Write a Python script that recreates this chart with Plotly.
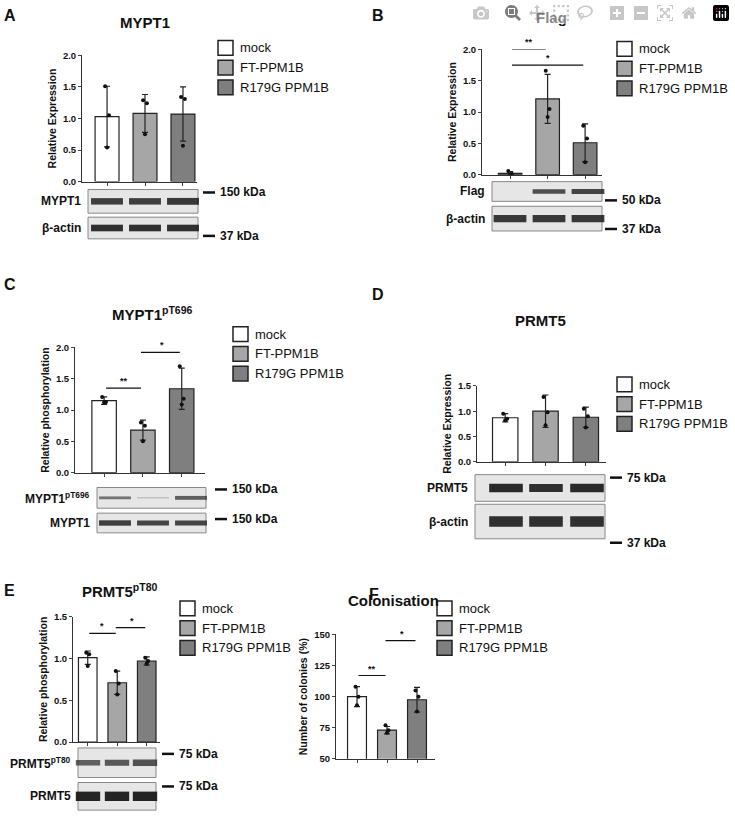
import plotly.graph_objects as go

W, H = 735, 824
groups = ["mock", "FT-PPM1B", "R179G PPM1B"]
colors = ["#ffffff", "#a6a6a6", "#7f7f7f"]

# --- data ---
A_mean = [1.03, 1.08, 1.07]; A_sd = [0.48, 0.30, 0.43]
A_pts = [[1.51, 1.05, 0.54], [1.29, 1.24, 0.75], [1.34, 1.31, 0.57]]
B_mean = [0.02, 1.21, 0.51]; B_sd = [0.03, 0.39, 0.30]
B_pts = [[0.06, 0.01, 0.0], [1.66, 1.05, 0.92], [0.78, 0.58, 0.20]]
C_mean = [1.15, 0.68, 1.34]; C_sd = [0.06, 0.16, 0.33]
C_pts = [[1.21, 1.13, 1.12], [0.80, 0.75, 0.50], [1.70, 1.18, 1.09]]
D_mean = [0.87, 1.00, 0.88]; D_sd = [0.08, 0.32, 0.20]
D_pts = [[0.95, 0.85, 0.82], [1.28, 0.98, 0.72], [1.05, 0.90, 0.68]]
E_mean = [1.01, 0.71, 0.97]; E_sd = [0.08, 0.14, 0.05]
E_pts = [[1.07, 1.05, 0.91], [0.85, 0.70, 0.57], [1.01, 0.97, 0.94]]
F_mean = [100, 73, 97.5]; F_sd = [8, 3, 10]
F_pts = [[108, 100, 93], [77, 73, 71], [105, 100, 88]]

FONT = "Liberation Sans"
fig = go.Figure()
shapes, annos = [], []

def px(x): return x / W
def py(y): return 1 - y / H

def text(x, y, t, size, xa="center", bold=True):
    annos.append(dict(xref="paper", yref="paper", x=px(x), y=py(y), text=("<b>" + t + "</b>") if bold else t,
                      showarrow=False, xanchor=xa, yanchor="middle", font=dict(size=size, family=FONT, color="#111")))

def panel(i, mean, sd, pts, box, xr, yr, dtick, ytitle, sigs, title, tpos, letter, lpos, legpos, blots):
    ax = "" if i == 1 else str(i)
    xa, ya = "x" + ax, "y" + ax
    x0, y0, x1, y1 = box
    fig.add_trace(go.Bar(x=[0, 1, 2], y=mean, width=0.63, marker=dict(color=colors, line=dict(color="#222", width=1.2)),
                         error_y=dict(type="data", array=sd, color="#222", thickness=1.2, width=3),
                         xaxis=xa, yaxis=ya, showlegend=False))
    xs, ys = [], []
    for g, p in enumerate(pts):
        offs = [-0.05, 0.05, 0.0]
        for k, v in enumerate(p):
            xs.append(g + offs[k]); ys.append(v)
    fig.add_trace(go.Scatter(x=xs, y=ys, mode="markers", marker=dict(color="#111", size=4),
                             xaxis=xa, yaxis=ya, showlegend=False))
    fig.layout["xaxis" + ax] = dict(domain=[px(x0), px(x1)], range=xr, anchor=ya, showline=True, linecolor="#333",
                                    tickvals=[0, 1, 2], showticklabels=False, ticks="outside", ticklen=3,
                                    showgrid=False, zeroline=False)
    fig.layout["yaxis" + ax] = dict(domain=[py(y1), py(y0)], range=yr, anchor=xa, showline=True, linecolor="#333",
                                    dtick=dtick, tick0=yr[0], ticks="outside", ticklen=3, showgrid=False, zeroline=False,
                                    tickfont=dict(size=9.5, family=FONT, color="#111", weight="bold"),
                                    tickformat=".1f" if dtick < 1 else "d",
                                    title=dict(text="<b>" + ytitle + "</b>", font=dict(size=10.5, family=FONT, color="#111"), standoff=4))
    for (a, b, yv, lab) in sigs:
        shapes.append(dict(type="line", xref=xa, yref=ya, x0=a - 0.05 + (0.1 if a == 0 else 0), x1=b - 0.05, y0=yv, y1=yv,
                           line=dict(color="#111", width=1.2)))
        annos.append(dict(xref=xa, yref=ya, x=(a + b) / 2, y=yv, text="<b>" + lab + "</b>", showarrow=False,
                          yanchor="bottom", font=dict(size=9, family=FONT, color="#111")))
    text(tpos[0], tpos[1], title, 15)
    text(lpos[0], lpos[1], letter, 16, "left")
    lx, ly = legpos
    for g in range(3):
        shapes.append(dict(type="rect", xref="paper", yref="paper", x0=px(lx), x1=px(lx + 15),
                           y0=py(ly + g * 20), y1=py(ly + g * 20 + 15), fillcolor=colors[g],
                           line=dict(color="#222", width=1.5)))
        text(lx + 20, ly + g * 20 + 7.5, groups[g], 13, "left", bold=False)
    for (label, bx0, by0, bx1, by1, lanes, inten, markers) in blots:
        shapes.append(dict(type="rect", xref="paper", yref="paper", x0=px(bx0), x1=px(bx1), y0=py(by1), y1=py(by0),
                           fillcolor="#e6e6e6", line=dict(color="#888", width=1)))
        bh = (by1 - by0)
        hw = 0.42 * (lanes[1] - lanes[0])
        for lc, it in zip(lanes, inten):
            if it <= 0: continue
            shapes.append(dict(type="rect", xref="paper", yref="paper", x0=px(lc - hw), x1=px(lc + hw),
                               y0=py(by0 + bh * 0.5 + bh * 0.17 * it), y1=py(by0 + bh * 0.5 - bh * 0.17 * it),
                               fillcolor="rgba(25,25,25,%.2f)" % (0.3 + 0.65 * it), line=dict(width=0)))
        text(bx0 - 5, (by0 + by1) / 2, label, 12, "right")
        for (mx, my, mt) in markers:
            shapes.append(dict(type="line", xref="paper", yref="paper", x0=px(mx), x1=px(mx + 12), y0=py(my), y1=py(my),
                               line=dict(color="#111", width=2.5)))
            text(mx + 15, my, mt, 12, "left")

panel(1, A_mean, A_sd, A_pts, (82, 50, 197, 178), [-0.66, 2.37], [0, 2.0], 0.5, "Relative Expression", [],
      "MYPT1", (145, 17), "A", (2, 10), (218, 35),
      [("MYPT1", 88, 186, 198, 210, [107, 145, 183], [0.8, 0.8, 0.85], [(203, 189, "150 kDa")]),
       ("β-actin", 88, 214, 198, 236, [107, 145, 183], [0.9, 0.9, 0.9], [(203, 233, "37 kDa")])])
panel(2, B_mean, B_sd, B_pts, (482, 44, 602, 171), [-0.75, 2.45], [0, 2.0], 0.5, "Relative Expression",
      [(0, 1, 2.0, "**"), (0, 2, 1.75, "*")],
      "Flag", (551, 12), "B", (370, 10), (617, 36),
      [("Flag", 492, 178, 602, 198, [510, 549, 588], [0.0, 0.7, 0.75], [(605, 197, "50 kDa")]),
       ("β-actin", 492, 203, 602, 228, [510, 549, 588], [0.85, 0.85, 0.85], [(605, 226, "37 kDa")])])
panel(3, C_mean, C_sd, C_pts, (75, 346, 205, 473), [-0.75, 2.6], [0, 2.0], 0.5, "Relative phosphorylation",
      [(0, 1, 1.35, "**"), (1, 2, 1.92, "*")],
      "MYPT1<sup>pT696</sup>", (152, 312), "C", (2, 282), (233, 325),
      [("MYPT1<sup>pT696</sup>", 97, 488, 206, 509, [115, 153, 191], [0.4, 0.1, 0.55], [(215, 490, "150 kDa")]),
       ("MYPT1", 97, 514, 206, 534, [115, 153, 191], [0.8, 0.75, 0.75], [(215, 520, "150 kDa")])])
panel(4, D_mean, D_sd, D_pts, (477, 385, 606, 462), [-0.7, 2.5], [0, 1.5], 0.5, "Relative Expression", [],
      "PRMT5", (540, 319), "D", (370, 292), (617, 376),
      [("PRMT5", 475, 475, 605, 502, [506, 546, 587], [0.95, 0.9, 0.95], [(610, 478, "75 kDa")]),
       ("β-actin", 475, 505, 605, 540, [506, 546, 587], [0.9, 0.9, 0.9], [(610, 544, "37 kDa")])])
panel(5, E_mean, E_sd, E_pts, (73, 619, 160, 746), [-0.5, 2.45], [0, 1.5], 0.5, "Relative phosphorylation",
      [(0, 1, 1.3, "*"), (1, 2, 1.37, "*")],
      "PRMT5<sup>pT80</sup>", (120, 592), "E", (2, 592), (180, 603),
      [("PRMT5<sup>pT80</sup>", 78, 752, 156, 782, [88, 117, 145], [0.55, 0.6, 0.65], [(162, 758, "75 kDa")]),
       ("PRMT5", 78, 787, 156, 815, [88, 117, 145], [1.0, 1.0, 1.0], [(162, 791, "75 kDa")])])
panel(6, F_mean, F_sd, F_pts, (336, 637, 435, 763), [-0.7, 2.6], [50, 150], 25, "Number of colonies (%)",
      [(0, 1, 117, "**"), (1, 2, 145, "*")],
      "Colonisation", (393, 603), "F", (367, 596), (437, 603), [])

fig.update_layout(width=W, height=H, margin=dict(l=0, r=0, t=0, b=0), paper_bgcolor="white", plot_bgcolor="white",
                  shapes=shapes, annotations=annos, bargap=0.3, font=dict(family=FONT, color="#111"))
fig.write_html("out.html")
with open("out.html", encoding="utf-8") as f:
    html = f.read()
html = html.replace("<body>", '<body style="margin:0;overflow:hidden">', 1)
with open("out.html", "w", encoding="utf-8") as f:
    f.write(html)
